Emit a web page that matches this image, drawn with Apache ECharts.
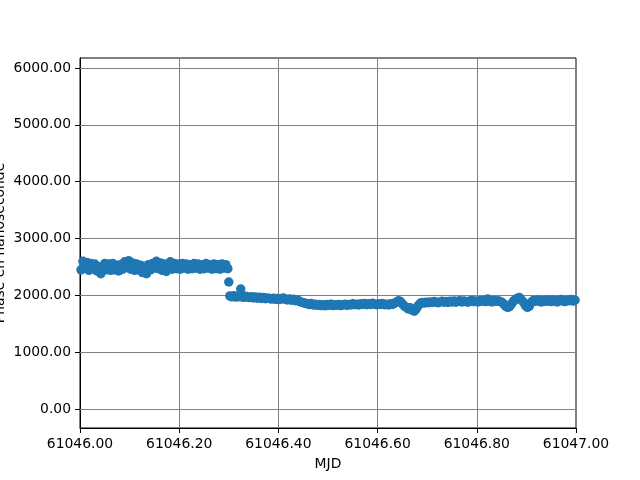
<!DOCTYPE html>
<html>
<head>
<meta charset="utf-8">
<script src="https://cdn.jsdelivr.net/npm/echarts@6/dist/echarts.min.js"></script>
<style>html,body{margin:0;padding:0;background:#fff}#c{width:640px;height:480px}</style>
</head>
<body>
<div id="c"></div>
<script>
const mjdStart = 61046;
// time offsets in days since MJD 61046.00
const dayOffset = [
0.002,0.006,0.010,0.014,0.018,0.022,0.026,0.030,0.034,0.038,0.042,0.046,0.050,0.054,0.058,0.062,0.066,0.070,0.074,0.078,
0.082,0.086,0.090,0.094,0.098,0.102,0.106,0.110,0.114,0.118,0.122,0.126,0.130,0.134,0.138,0.142,0.146,0.150,0.154,0.158,
0.162,0.166,0.170,0.174,0.178,0.182,0.186,0.190,0.194,0.198,0.202,0.206,0.210,0.214,0.218,0.222,0.226,0.230,0.234,0.238,
0.242,0.246,0.250,0.254,0.258,0.262,0.266,0.270,0.274,0.278,0.282,0.286,0.290,0.294,0.298,0.300,
0.302,0.306,0.310,0.314,0.318,0.322,0.324,0.326,0.330,0.334,0.338,0.342,0.346,0.350,0.354,0.358,0.362,0.366,0.370,0.374,
0.378,0.382,0.386,0.390,0.394,0.398,0.402,0.406,0.410,0.414,0.418,0.422,0.426,0.430,0.434,0.438,0.442,0.446,0.450,0.454,
0.458,0.462,0.466,0.470,0.474,0.478,0.482,0.486,0.490,0.494,0.498,0.502,0.506,0.510,0.514,0.518,0.522,0.526,0.530,0.534,
0.538,0.542,0.546,0.550,0.554,0.558,0.562,0.566,0.570,0.574,0.578,0.582,0.586,0.590,0.594,0.598,0.602,0.606,0.610,0.614,
0.618,0.622,0.626,0.630,0.634,0.638,0.642,0.646,0.650,0.654,0.658,0.662,0.666,0.670,0.674,0.678,0.682,0.686,0.690,0.694,
0.698,0.702,0.706,0.710,0.714,0.718,0.722,0.726,0.730,0.734,0.738,0.742,0.746,0.750,0.754,0.758,0.762,0.766,0.770,0.774,
0.778,0.782,0.786,0.790,0.794,0.798,0.802,0.806,0.810,0.814,0.818,0.822,0.826,0.830,0.834,0.838,0.842,0.846,0.850,0.854,
0.858,0.862,0.866,0.870,0.874,0.878,0.882,0.886,0.890,0.894,0.898,0.902,0.906,0.910,0.914,0.918,0.922,0.926,0.930,0.934,
0.938,0.942,0.946,0.950,0.954,0.958,0.962,0.966,0.970,0.974,0.978,0.982,0.986,0.990,0.994,0.998
];
// phase in nanoseconds
const phaseNs = [
2450,2600,2480,2580,2440,2560,2470,2550,2430,2500,2380,2480,2560,2450,2550,2440,2560,2450,2530,2430,
2540,2460,2590,2510,2610,2460,2570,2440,2550,2450,2530,2400,2480,2380,2540,2450,2560,2480,2600,2470,
2570,2440,2550,2420,2520,2590,2460,2560,2470,2550,2460,2560,2480,2550,2460,2540,2470,2560,2480,2550,
2460,2540,2470,2560,2480,2540,2460,2550,2470,2540,2460,2550,2480,2540,2470,2235,
1990,1975,1995,1970,1985,1975,2110,1980,1965,1985,1970,1960,1975,1955,1970,1950,1965,1945,1960,1940,
1955,1945,1935,1950,1930,1945,1925,1940,1955,1930,1920,1935,1915,1930,1905,1920,1895,1880,1870,1860,
1850,1840,1855,1830,1845,1825,1840,1820,1835,1815,1840,1825,1845,1820,1835,1825,1840,1820,1835,1845,
1825,1840,1830,1850,1835,1845,1830,1850,1840,1855,1835,1850,1840,1860,1845,1835,1850,1840,1855,1835,
1845,1830,1850,1840,1860,1880,1905,1890,1850,1810,1790,1760,1780,1740,1720,1760,1820,1860,1875,1865,
1880,1870,1885,1875,1890,1880,1870,1885,1895,1880,1890,1875,1895,1885,1900,1880,1895,1905,1885,1900,
1890,1880,1900,1910,1890,1900,1885,1905,1895,1910,1890,1935,1900,1885,1910,1895,1905,1895,1880,1850,
1810,1790,1800,1850,1900,1930,1950,1960,1920,1880,1820,1790,1810,1880,1910,1895,1920,1900,1885,1910,
1895,1920,1900,1890,1915,1900,1885,1910,1925,1900,1890,1915,1905,1925,1900,1915,1910
];
const xTicks = [61046.0, 61046.2, 61046.4, 61046.6, 61046.8, 61047.0];
const yTicks = [0, 1000, 2000, 3000, 4000, 5000, 6000];
const yMin = -334, yMax = 6176;

const points = dayOffset.map((d, i) => [mjdStart + d, phaseNs[i]]);
const font = 'DejaVu Sans';
const chart = echarts.init(document.getElementById('c'), null, {renderer: 'canvas'});
chart.setOption({
  animation: false,
  backgroundColor: '#ffffff',
  grid: {left: 80, right: 64, top: 58, bottom: 52, show: true, borderColor: '#000', borderWidth: 1, backgroundColor: 'transparent', outerBoundsMode: 'none', containLabel: false},
  xAxis: {
    type: 'value', min: xTicks[0], max: xTicks[xTicks.length - 1], interval: 0.2,
    name: 'MJD', nameLocation: 'middle', nameGap: 29, nameMoveOverlap: false,
    nameTextStyle: {fontFamily: font, fontSize: 13.9, color: '#000'},
    axisLine: {show: true, onZero: false, lineStyle: {color: '#000', width: 1}},
    axisTick: {show: true, inside: false, length: 5, lineStyle: {color: '#000', width: 1}},
    axisLabel: {margin: 9, fontFamily: font, fontSize: 13.9, color: '#000', formatter: v => v.toFixed(2), hideOverlap: false},
    splitLine: {show: true, lineStyle: {color: '#808080', width: 1}}
  },
  yAxis: {
    type: 'value', min: yMin, max: yMax,
    name: 'Phase en nanoseconde', nameLocation: 'middle', nameGap: 73, nameMoveOverlap: false,
    nameTextStyle: {fontFamily: font, fontSize: 13.9, color: '#000'},
    axisLine: {show: true, onZero: false, lineStyle: {color: '#000', width: 1}},
    axisTick: {show: true, inside: false, length: 5, customValues: yTicks, lineStyle: {color: '#000', width: 1}},
    axisLabel: {margin: 9, fontFamily: font, fontSize: 13.9, color: '#000', customValues: yTicks, formatter: v => v.toFixed(2), hideOverlap: false},
    splitLine: {show: false}
  },
  series: [{
    type: 'scatter', data: points, symbol: 'circle', symbolSize: 9.5,
    itemStyle: {color: '#1f77b4', opacity: 1}, clip: true, large: false, z: 3,
    markLine: {
      silent: true, symbol: 'none', animation: false, z: 1,
      label: {show: false},
      lineStyle: {color: '#808080', width: 1, type: 'solid'},
      data: yTicks.map(v => ({yAxis: v}))
    }
  }]
});
</script>
</body>
</html>
